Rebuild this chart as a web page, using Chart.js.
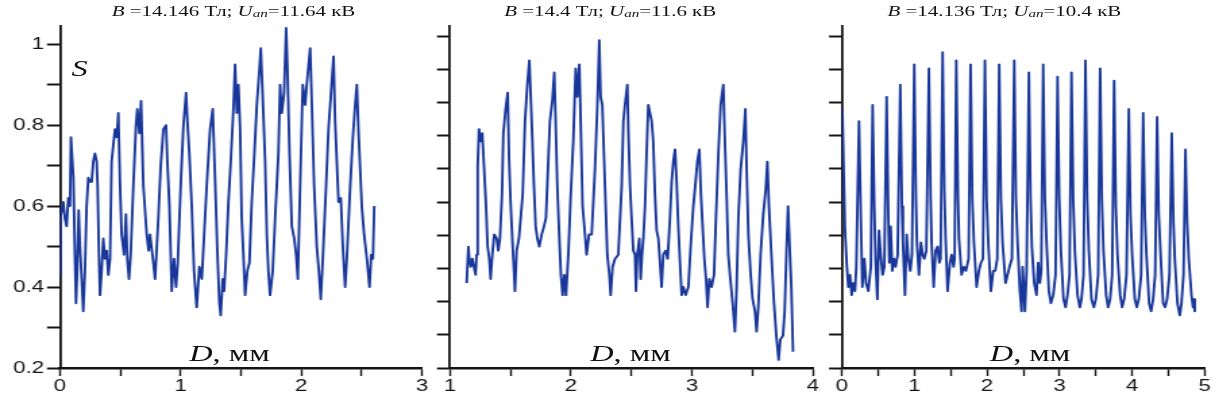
<!DOCTYPE html>
<html lang="ru">
<head>
<meta charset="UTF-8">
<title>S(D)</title>
<script src="https://cdn.jsdelivr.net/npm/chart.js"></script>
<style>
  html, body { margin: 0; padding: 0; background: #fff; }
  body { width: 1218px; height: 410px; overflow: hidden; position: relative; }
  /* the source figure is stretched sideways, so draw narrow and stretch */
  #stage { position: absolute; left: 0; top: 0; width: 902px; height: 410px; transform: scaleX(1.35); transform-origin: 0 0; }
  .panel { position: absolute; top: 0; height: 410px; }
  .title { position: absolute; top: 3px; width: 300px; text-align: center; font: 15.5px "Liberation Serif", "Times New Roman", serif; line-height: 1; color: #111; white-space: nowrap; }
  .title sub { font-size: 0.72em; vertical-align: -0.12em; }
  .dlab { position: absolute; top: 341px; width: 160px; text-align: center; font: 24px "Liberation Serif", "Times New Roman", serif; line-height: 1; color: #111; white-space: nowrap; }
  .slab { position: absolute; left: 53px; top: 56px; font: italic 24px "Liberation Serif", "Times New Roman", serif; line-height: 1; color: #111; }
</style>
</head>
<body>
<div id="stage">
  <div class="panel" style="left:0;width:320px"><canvas id="c1"></canvas></div>
  <div class="panel" style="left:320px;width:292px"><canvas id="c2"></canvas></div>
  <div class="panel" style="left:612px;width:290px"><canvas id="c3"></canvas></div>

  <div class="title" style="left:23px"><i>B</i> =14.146 Тл; <i>U<sub>an</sub></i>=11.64 кВ</div>
  <div class="title" style="left:302px"><i>B</i> =14.4 Тл; <i>U<sub>an</sub></i>=11.6 кВ</div>
  <div class="title" style="left:594px"><i>B</i> =14.136 Тл; <i>U<sub>an</sub></i>=10.4 кВ</div>

  <div class="slab">S</div>
  <div class="dlab" style="left:90px"><i>D</i>, мм</div>
  <div class="dlab" style="left:387px"><i>D</i>, мм</div>
  <div class="dlab" style="left:683px"><i>D</i>, мм</div>
</div>

<script>
// panel 1: B = 14.146 T
const d1 = [0.000,0.003,0.028,0.041,0.055,0.069,0.083,0.091,0.111,0.124,
  0.133,0.144,0.155,0.166,0.180,0.193,0.207,0.221,0.235,0.249,
  0.263,0.276,0.290,0.304,0.312,0.323,0.332,0.345,0.359,0.373,
  0.387,0.401,0.415,0.428,0.442,0.456,0.470,0.484,0.498,0.511,
  0.531,0.547,0.558,0.572,0.586,0.608,0.630,0.641,0.658,0.672,
  0.691,0.719,0.735,0.746,0.774,0.788,0.815,0.835,0.857,0.879,
  0.890,0.907,0.926,0.945,0.962,0.976,1.003,1.023,1.045,1.056,
  1.072,1.092,1.111,1.133,1.155,1.175,1.216,1.244,1.266,1.285,
  1.305,1.321,1.332,1.349,1.360,1.377,1.396,1.415,1.437,1.451,
  1.465,1.479,1.493,1.506,1.520,1.534,1.553,1.570,1.589,1.611,
  1.631,1.653,1.664,1.680,1.700,1.714,1.727,1.741,1.763,1.783,
  1.810,1.824,1.838,1.857,1.874,1.885,1.902,1.921,1.941,1.957,
  1.971,1.990,2.012,2.032,2.045,2.073,2.087,2.106,2.128,2.145,
  2.161,2.178,2.205,2.225,2.244,2.267,2.280,2.308,2.327,2.344,
  2.363,2.377,2.405,2.427,2.446,2.460,2.473,2.501,2.520,2.543,
  2.565,2.579,2.593,2.604];
const s1 = [0.43,0.57,0.61,0.57,0.55,0.62,0.60,0.77,0.67,0.48,
  0.36,0.45,0.59,0.50,0.42,0.34,0.44,0.60,0.67,0.66,
  0.66,0.71,0.73,0.71,0.65,0.48,0.38,0.44,0.52,0.47,
  0.49,0.43,0.47,0.71,0.75,0.79,0.77,0.83,0.65,0.53,
  0.48,0.58,0.47,0.42,0.48,0.65,0.80,0.84,0.78,0.86,
  0.65,0.53,0.49,0.53,0.46,0.42,0.57,0.70,0.79,0.80,
  0.71,0.60,0.39,0.47,0.40,0.46,0.67,0.80,0.88,0.81,
  0.73,0.60,0.44,0.35,0.45,0.42,0.65,0.79,0.84,0.67,
  0.48,0.36,0.33,0.42,0.39,0.48,0.61,0.71,0.84,0.95,
  0.83,0.90,0.79,0.57,0.48,0.38,0.44,0.46,0.61,0.73,
  0.85,0.94,0.99,0.87,0.71,0.53,0.44,0.38,0.44,0.57,
  0.73,0.90,0.83,0.88,1.04,0.94,0.73,0.55,0.52,0.48,
  0.42,0.65,0.90,0.85,0.90,0.99,0.85,0.65,0.50,0.44,
  0.37,0.47,0.65,0.79,0.87,0.97,0.81,0.61,0.62,0.50,
  0.40,0.47,0.65,0.77,0.85,0.90,0.79,0.60,0.53,0.47,
  0.40,0.48,0.47,0.60];

// panel 2: B = 14.4 T
const d2 = [1.138,1.152,1.160,1.171,1.185,1.198,1.212,1.220,1.229,1.240,
  1.253,1.267,1.281,1.298,1.311,1.325,1.336,1.350,1.366,1.386,
  1.399,1.413,1.430,1.441,1.460,1.477,1.488,1.501,1.515,1.529,
  1.537,1.551,1.570,1.587,1.601,1.620,1.639,1.656,1.669,1.680,
  1.694,1.708,1.722,1.738,1.758,1.777,1.793,1.804,1.826,1.846,
  1.862,1.873,1.887,1.904,1.917,1.931,1.945,1.959,1.978,1.997,
  2.019,2.039,2.052,2.069,2.080,2.096,2.116,2.129,2.149,2.171,
  2.198,2.218,2.234,2.245,2.259,2.281,2.300,2.317,2.328,2.344,
  2.364,2.391,2.419,2.433,2.446,2.466,2.474,2.488,2.501,2.515,
  2.529,2.537,2.548,2.565,2.576,2.587,2.598,2.612,2.625,2.639,
  2.653,2.667,2.680,2.694,2.708,2.722,2.736,2.749,2.763,2.782,
  2.799,2.818,2.832,2.846,2.860,2.873,2.887,2.901,2.915,2.928,
  2.948,2.970,2.989,3.011,3.030,3.044,3.061,3.074,3.088,3.102,
  3.116,3.129,3.143,3.162,3.182,3.198,3.218,3.237,3.259,3.273,
  3.287,3.300,3.314,3.336,3.355,3.369,3.383,3.402,3.424,3.441,
  3.452,3.466,3.485,3.501,3.521,3.534,3.548,3.567,3.589,3.609,
  3.623,3.636,3.658,3.678,3.697,3.716,3.730,3.752,3.766,3.780,
  3.794,3.807,3.821,3.835];
const s2 = [0.41,0.50,0.47,0.45,0.47,0.45,0.43,0.48,0.70,0.79,
  0.76,0.78,0.70,0.60,0.50,0.47,0.42,0.48,0.53,0.52,
  0.49,0.52,0.63,0.78,0.84,0.88,0.72,0.61,0.52,0.44,
  0.39,0.49,0.52,0.58,0.63,0.81,0.90,0.96,0.86,0.77,
  0.65,0.55,0.52,0.50,0.53,0.55,0.57,0.65,0.81,0.86,
  0.93,0.81,0.65,0.52,0.43,0.38,0.43,0.38,0.48,0.62,
  0.76,0.94,0.87,0.95,0.81,0.60,0.53,0.48,0.53,0.53,
  0.69,0.85,1.01,0.87,0.85,0.65,0.48,0.43,0.38,0.45,
  0.47,0.48,0.65,0.81,0.85,0.90,0.79,0.65,0.57,0.49,
  0.48,0.39,0.48,0.52,0.42,0.48,0.52,0.60,0.73,0.85,
  0.83,0.81,0.76,0.63,0.54,0.52,0.46,0.40,0.48,0.49,
  0.47,0.57,0.66,0.71,0.74,0.66,0.55,0.46,0.38,0.40,
  0.38,0.40,0.50,0.60,0.66,0.71,0.74,0.63,0.55,0.47,
  0.42,0.35,0.42,0.40,0.43,0.57,0.73,0.85,0.90,0.75,
  0.62,0.48,0.43,0.36,0.29,0.40,0.57,0.69,0.76,0.84,
  0.69,0.53,0.43,0.37,0.34,0.29,0.35,0.48,0.58,0.64,
  0.71,0.60,0.47,0.36,0.28,0.22,0.27,0.28,0.34,0.48,
  0.60,0.50,0.40,0.24];

// panel 3: B = 14.136 T
const d3 = [0.005,0.041,0.064,0.087,0.110,0.133,0.156,0.179,0.197,
  0.234,0.262,0.280,0.308,0.331,0.363,0.386,0.398,
  0.422,0.445,0.464,0.487,0.510,0.533,0.560,0.583,
  0.615,0.638,0.652,0.670,0.693,0.716,0.739,0.767,
  0.803,0.826,0.840,0.868,0.891,0.914,0.941,0.964,
  0.996,1.019,1.033,1.061,1.088,1.111,1.134,1.162,
  1.198,1.221,1.235,1.263,1.290,1.318,1.341,1.359,
  1.387,1.410,1.428,1.455,1.488,1.511,1.538,1.552,
  1.575,1.598,1.612,1.648,1.680,1.708,1.745,
  1.772,1.795,1.818,1.855,1.887,1.915,1.943,
  1.970,1.993,2.016,2.052,2.084,2.112,2.140,
  2.167,2.190,2.213,2.254,2.282,2.309,2.342,
  2.374,2.397,2.420,2.452,2.475,2.489,2.502,2.521,2.544,
  2.576,2.599,2.617,2.649,2.681,2.704,2.727,2.746,
  2.773,2.796,2.819,2.851,2.879,2.911,2.943,
  2.971,2.994,3.017,3.053,3.081,3.108,3.136,
  3.163,3.186,3.209,3.246,3.278,3.301,3.329,
  3.356,3.379,3.402,3.439,3.471,3.499,3.531,
  3.558,3.581,3.604,3.641,3.668,3.696,3.724,
  3.751,3.774,3.797,3.834,3.861,3.889,3.921,
  3.953,3.976,3.999,4.036,4.063,4.091,4.123,
  4.151,4.174,4.196,4.233,4.261,4.288,4.316,
  4.343,4.366,4.394,4.426,4.453,4.481,4.513,
  4.545,4.568,4.587,4.623,4.656,4.679,4.707,
  4.734,4.757,4.780,4.817,4.839,4.853,4.862];
const s3 = [0.84,0.54,0.46,0.40,0.43,0.38,0.41,0.39,0.45,
  0.81,0.55,0.40,0.47,0.41,0.39,0.43,0.45,
  0.85,0.60,0.46,0.37,0.54,0.48,0.43,0.45,
  0.87,0.58,0.46,0.55,0.44,0.47,0.45,0.48,
  0.90,0.60,0.51,0.38,0.53,0.47,0.44,0.48,
  0.95,0.62,0.51,0.43,0.51,0.48,0.47,0.49,
  0.94,0.62,0.51,0.40,0.49,0.50,0.46,0.47,
  0.98,0.64,0.52,0.39,0.46,0.48,0.45,0.47,
  0.96,0.62,0.52,0.43,0.45,0.44,0.47,
  0.95,0.62,0.51,0.40,0.44,0.46,0.47,
  0.96,0.62,0.51,0.39,0.44,0.44,0.47,
  0.95,0.62,0.51,0.41,0.43,0.45,0.47,
  0.96,0.62,0.51,0.39,0.34,0.45,0.41,0.34,0.44,
  0.93,0.62,0.50,0.41,0.38,0.46,0.41,0.44,
  0.95,0.62,0.51,0.39,0.36,0.38,0.43,
  0.92,0.62,0.49,0.37,0.35,0.38,0.43,
  0.93,0.62,0.49,0.38,0.35,0.37,0.43,
  0.96,0.62,0.49,0.37,0.35,0.37,0.43,
  0.94,0.62,0.49,0.38,0.35,0.37,0.43,
  0.91,0.60,0.48,0.38,0.35,0.37,0.43,
  0.84,0.58,0.48,0.37,0.35,0.37,0.43,
  0.83,0.58,0.48,0.36,0.34,0.37,0.43,
  0.82,0.58,0.47,0.36,0.35,0.37,0.43,
  0.78,0.56,0.47,0.36,0.33,0.36,0.43,
  0.74,0.56,0.47,0.38,0.35,0.37,0.34];

// axis ticks
const xTicks1 = [0, 0.5, 1, 1.5, 2, 2.5, 3];
const xTicks2 = [1, 1.5, 2, 2.5, 3, 3.5, 4];
const xTicks3 = [0, 0.5, 1, 1.5, 2, 2.5, 3, 3.5, 4, 4.5, 5];
const yTicks1 = [0.2, 0.3, 0.4, 0.5, 0.6, 0.7, 0.8, 0.9, 1.0];
const yLabels1 = ['0.2', '', '0.4', '', '0.6', '', '0.8', '', '1'];
// panels 2 and 3 have 10 unlabelled divisions on their own axis
const yTicks23 = [0.2, 0.282, 0.364, 0.446, 0.528, 0.61, 0.692, 0.774, 0.856, 0.938, 1.02];

const lineColor = '#19379a';
const axisColor = '#151515';
const tickFont = { family: '"Liberation Sans", Arial, sans-serif', size: 16.5 };

function makePanel(id, xs, ys, xMin, xMax, xTicks, yTicks, yLabels, yWidth, padRight) {
    const n = Math.min(xs.length, ys.length);
    const pts = [];
    for (let i = 0; i < n; i++) pts.push({ x: xs[i], y: ys[i] });

    return new Chart(document.getElementById(id), {
        type: 'line',
        data: {
            datasets: [{
                data: pts,
                borderColor: lineColor,
                borderWidth: 1.9,
                borderJoinStyle: 'round',
                pointRadius: 0,
                tension: 0,
                fill: false
            }]
        },
        options: {
            animation: false,
            responsive: true,
            maintainAspectRatio: false,
            layout: { padding: { top: 26, right: padRight, left: 0, bottom: 0 } },
            plugins: { legend: { display: false }, tooltip: { enabled: false } },
            scales: {
                x: {
                    type: 'linear',
                    min: xMin,
                    max: xMax,
                    afterBuildTicks: s => { s.ticks = xTicks.map(v => ({ value: v })); },
                    afterFit: s => { s.height = 42; },
                    grid: { drawOnChartArea: false, drawTicks: true, tickLength: 8, tickColor: axisColor, tickWidth: 1.4 },
                    border: { color: axisColor, width: 2.4 },
                    ticks: {
                        autoSkip: false, maxRotation: 0, padding: 1,
                        color: axisColor, font: tickFont,
                        callback: v => Number.isInteger(v) ? String(v) : ''
                    }
                },
                y: {
                    min: 0.2,
                    max: 1.045,
                    afterBuildTicks: s => { s.ticks = yTicks.map(v => ({ value: v })); },
                    afterFit: s => { s.width = yWidth; },
                    grid: { drawOnChartArea: false, drawTicks: true, tickLength: 9.6, tickColor: axisColor, tickWidth: 2 },
                    border: { color: axisColor, width: 1.8 },
                    ticks: {
                        autoSkip: false, padding: 2,
                        color: axisColor, font: tickFont,
                        callback: (v, i) => yLabels ? yLabels[i] : ''
                    }
                }
            }
        }
    });
}

makePanel('c1', d1, s1, 0, 3, xTicks1, yTicks1, yLabels1, 44.4, 7.4);
makePanel('c2', d2, s2, 1, 4, xTicks2, yTicks23, null, 13.3, 9.8);
makePanel('c3', d3, s3, 0, 5, xTicks3, yTicks23, null, 11.7, 9.6);
</script>
</body>
</html>
